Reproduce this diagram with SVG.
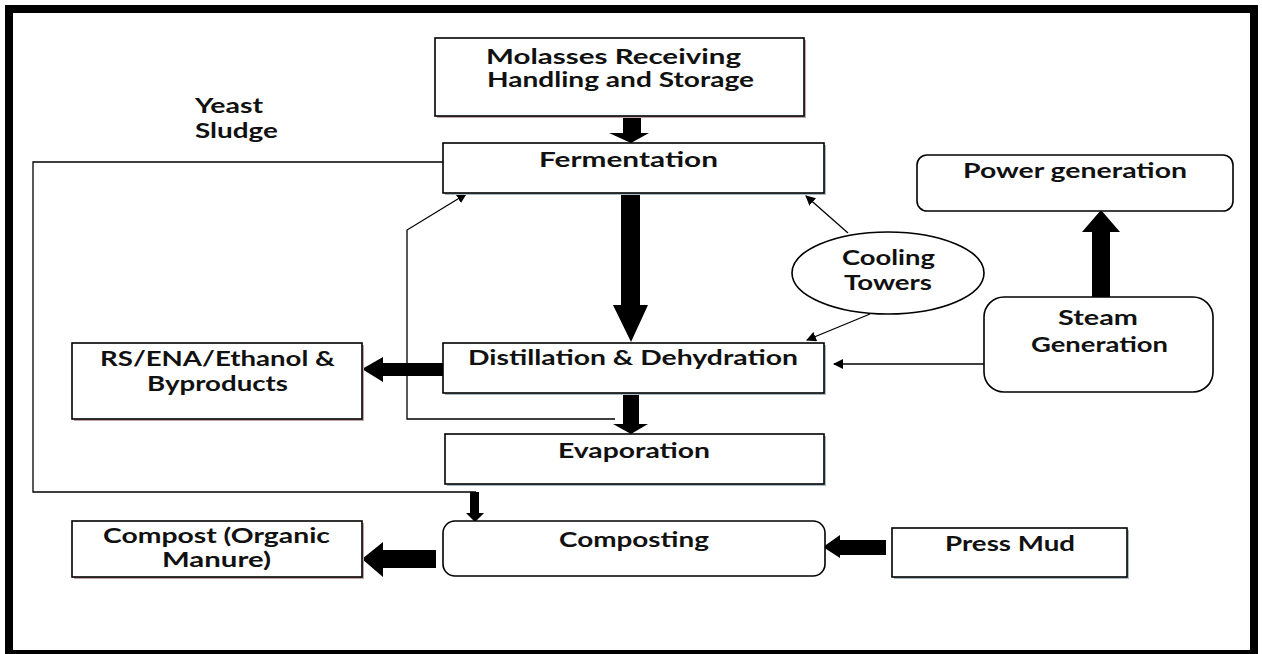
<svg xmlns="http://www.w3.org/2000/svg" width="1262" height="654" viewBox="0 0 1262 654">
<style>
.box{fill:#fff;stroke:#000;stroke-width:1.6}
.sh{fill:#a9bcc6}
.shr{fill:#c4a5a5}
.t{font-family:Lato,"Liberation Sans",Arial,sans-serif;font-weight:bold;font-size:20px;fill:#111}
.thin{fill:none;stroke:#000;stroke-width:1.3}
.blk{fill:#000}
</style>
<defs>
<marker id="ah" viewBox="0 0 10 10" refX="9" refY="5" markerWidth="10" markerHeight="10" markerUnits="userSpaceOnUse" orient="auto">
<path d="M0,0 L10,5 L0,10 z" fill="#000"/>
</marker>
</defs>
<rect width="1262" height="654" fill="#fff"/>
<rect x="9" y="9" width="1245" height="645" fill="none" stroke="#000" stroke-width="8"/>

<g id="connectors">
<!-- Molasses -> Fermentation -->
<path class="blk" d="M623,116 H641 V133 H649 L631,143 L609,133 H623 Z"/>
<!-- Fermentation -> Distillation -->
<path class="blk" d="M621,193 H640 V305 H648 L631,342 L613,305 H621 Z"/>
<!-- Distillation -> Evaporation -->
<path class="blk" d="M623,393 H639 V424 H648 L631,434 L613,424 H623 Z"/>
<!-- Distillation -> RS/ENA -->
<path class="blk" d="M443,363 V376 H383 V382 L362,369 L383,357 V363 Z"/>
<!-- Composting -> Compost -->
<path class="blk" d="M436,550 V568 H383 V577 L362,559 L383,542 V550 Z"/>
<!-- Press Mud -> Composting -->
<path class="blk" d="M886,540 V555 H840 V558 L823,547 L840,535 V540 Z"/>
<!-- Steam -> Power -->
<path class="blk" d="M1092,297 V232 H1082 L1101,210 L1120,232 H1110 V297 Z"/>
<!-- Yeast sludge line -->
<polyline class="thin" points="443,162 33,162 33,492 476,492"/>
<path class="blk" d="M470,492 H479 V513 H484 L475,522 L466,513 H470 Z"/>
<!-- Recycle from distillation/evaporation to fermentation -->
<polyline class="thin" points="615,419 407,419 407,230 466,194" marker-end="url(#ah)"/>
<!-- Cooling towers -->
<line class="thin" x1="848" y1="233" x2="806" y2="196" marker-end="url(#ah)"/>
<line class="thin" x1="870" y1="314" x2="807" y2="340" marker-end="url(#ah)"/>
<!-- Steam -> Distillation -->
<line class="thin" x1="984" y1="364" x2="834" y2="364" marker-end="url(#ah)"/>
</g>

<g id="molasses">
<rect class="shr" x="437" y="40" width="369" height="78"/>
<rect class="box" x="435" y="38" width="369" height="78"/>
<text class="t" x="486" y="64" textLength="255" lengthAdjust="spacingAndGlyphs">Molasses Receiving</text>
<text class="t" x="487" y="87" textLength="267" lengthAdjust="spacingAndGlyphs">Handling and Storage</text>
</g>

<g id="fermentation">
<rect class="sh" x="445" y="145" width="381" height="50"/>
<rect class="box" x="443" y="143" width="381" height="50"/>
<text class="t" x="539" y="167" textLength="179" lengthAdjust="spacingAndGlyphs">Fermentation</text>
</g>

<g id="yeast-sludge">
<text class="t" x="195" y="113" textLength="68" lengthAdjust="spacingAndGlyphs">Yeast</text>
<text class="t" x="195" y="138" textLength="83" lengthAdjust="spacingAndGlyphs">Sludge</text>
</g>

<g id="power">
<rect class="box" x="917" y="155" width="316" height="56" rx="10"/>
<text class="t" x="963" y="178" textLength="224" lengthAdjust="spacingAndGlyphs">Power generation</text>
</g>

<g id="cooling">
<ellipse class="box" cx="888" cy="273" rx="96" ry="41"/>
<text class="t" x="842" y="265" textLength="93" lengthAdjust="spacingAndGlyphs">Cooling</text>
<text class="t" x="844" y="290" textLength="88" lengthAdjust="spacingAndGlyphs">Towers</text>
</g>

<g id="steam">
<rect class="box" x="984" y="297" width="229" height="95" rx="20"/>
<text class="t" x="1058" y="325" textLength="80" lengthAdjust="spacingAndGlyphs">Steam</text>
<text class="t" x="1031" y="352" textLength="137" lengthAdjust="spacingAndGlyphs">Generation</text>
</g>

<g id="distillation">
<rect class="sh" x="445" y="345" width="381" height="50"/>
<rect class="box" x="443" y="343" width="381" height="50"/>
<text class="t" x="468" y="365" textLength="330" lengthAdjust="spacingAndGlyphs">Distillation &amp; Dehydration</text>
</g>

<g id="rs-ena">
<rect class="shr" x="74" y="345" width="290" height="76"/>
<rect class="box" x="72" y="343" width="290" height="76"/>
<text class="t" x="100" y="366" textLength="235" lengthAdjust="spacingAndGlyphs">RS/ENA/Ethanol &amp;</text>
<text class="t" x="147" y="391" textLength="141" lengthAdjust="spacingAndGlyphs">Byproducts</text>
</g>

<g id="evaporation">
<rect class="sh" x="447" y="436" width="379" height="50"/>
<rect class="box" x="445" y="434" width="379" height="50"/>
<text class="t" x="558" y="458" textLength="152" lengthAdjust="spacingAndGlyphs">Evaporation</text>
</g>

<g id="composting">
<rect class="box" x="443" y="521" width="382" height="55" rx="12"/>
<text class="t" x="559" y="547" textLength="150" lengthAdjust="spacingAndGlyphs">Composting</text>
</g>

<g id="compost">
<rect class="shr" x="74" y="523" width="290" height="56"/>
<rect class="box" x="72" y="521" width="290" height="56"/>
<text class="t" x="103" y="543" textLength="227" lengthAdjust="spacingAndGlyphs">Compost (Organic</text>
<text class="t" x="162" y="567" textLength="109" lengthAdjust="spacingAndGlyphs">Manure)</text>
</g>

<g id="press-mud">
<rect class="sh" x="894" y="530" width="235" height="49"/>
<rect class="box" x="892" y="528" width="235" height="49"/>
<text class="t" x="945" y="551" textLength="130" lengthAdjust="spacingAndGlyphs">Press Mud</text>
</g>
</svg>
